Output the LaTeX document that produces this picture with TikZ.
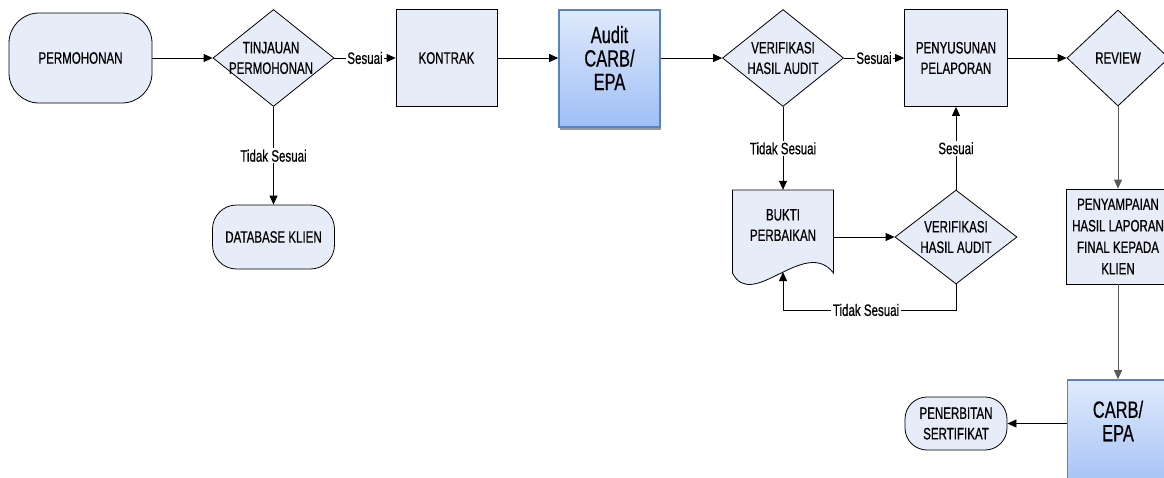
\documentclass[tikz,border=0pt]{standalone}
\usepackage{fontspec}
\setmainfont{Liberation Sans}[FakeStretch=0.7,FakeBold=0.6]
\usetikzlibrary{shapes.geometric,arrows.meta,shadows}
\definecolor{boxfill}{RGB}{231,237,248}
\definecolor{gtop}{RGB}{224,234,252}
\definecolor{gbot}{RGB}{158,190,245}
\definecolor{gborder}{RGB}{88,130,200}
\begin{document}
\begin{tikzpicture}[x=1pt,y=-1pt, font=\fontsize{16.5}{20.5}\selectfont,
 box/.style={draw=black, fill=boxfill, line width=0.8pt, inner sep=0pt},
 proc/.style={box, rectangle, minimum width=101pt, minimum height=97pt, align=center},
 term/.style={box, rectangle, rounded corners=#1, align=center},
 dec/.style={box, diamond, minimum width=121pt, minimum height=97pt},
 dtext/.style={align=center, inner sep=0pt},
 big/.style={rectangle, draw=gborder, line width=1.6pt, top color=gtop, bottom color=gbot, minimum width=101pt, minimum height=117pt, drop shadow={shadow xshift=1pt, shadow yshift=-3pt, fill=gray!80, opacity=1}},
 bigtext/.style={align=center, font=\fontsize{23.5}{23.5}\selectfont},
 arr/.style={-{Triangle[length=9pt,width=8pt]}, line width=0.8pt},
 lbl/.style={fill=white, inner sep=1.5pt}]
\useasboundingbox (0,0) rectangle (1164,477);
\clip (0,0) rectangle (1164,477);

% top row
\node[term=30pt, minimum width=143pt, minimum height=90pt] (perm) at (80.5,58) {PERMOHONAN};
\node[dec] (tinj) at (273.5,58) {};
\node[dtext] (tinjt) at (271,58) {TINJAUAN\\PERMOHONAN};
\node[proc] (kontrak) at (446.5,58) {KONTRAK};
\node[big] (audit) at (609.5,68.5) {};
\node[bigtext] (auditt) at (609.5,58) {Audit\\CARB/\\EPA};
\node[dec] (ver1) at (783,58) {};
\node[dtext] (ver1t) at (783,58) {VERIFIKASI\\HASIL AUDIT};
\node[proc, minimum width=103pt] (penyus) at (956,58) {PENYUSUNAN\\PELAPORAN};
\node[dec, minimum width=102pt, minimum height=96pt] (review) at (1118,58) {};
\node[dtext] (reviewt) at (1118,58) {REVIEW};

% lower part
\node[term=24pt, minimum width=122pt, minimum height=64pt] (db) at (273.5,237) {DATABASE KLIEN};
\node[inner sep=0pt, minimum width=101pt, minimum height=83pt] (bukti) at (783,231.5) {};
\draw[box] (732.5,190) -- (833.5,190) -- (833.5,273) .. controls (805,236) and (752,312) .. (732.5,273) -- cycle;
\node[dtext] (buktit) at (783,225) {BUKTI\\PERBAIKAN};
\coordinate (buktibot) at (783,272);
\node[dec, minimum width=122pt, minimum height=94pt] (ver2) at (956,237) {};
\node[dtext] (ver2t) at (956,237) {VERIFIKASI\\HASIL AUDIT};
\coordinate (loopc) at (783,310);
\node[proc, minimum width=103pt, minimum height=95pt, font=\fontsize{16.5}{21.5}\selectfont] (penyam) at (1118,236.5) {PENYAMPAIAN\\HASIL LAPORAN\\FINAL KEPADA\\KLIEN};
\node[big] (carb) at (1118,438.5) {};
\node[bigtext] (carbt) at (1118,421) {CARB/\\EPA};
\node[term=22pt, minimum width=102pt, minimum height=53pt] (pen) at (956,423.5) {PENERBITAN\\SERTIFIKAT};

% connectors
\draw[arr] (perm) -- (tinj);
\draw[arr] (tinj) -- node[lbl]{Sesuai} (kontrak);
\draw[arr] (kontrak) -- (audit.west |- kontrak);
\draw[arr] (audit.east |- ver1) -- (ver1);
\draw[arr] (ver1) -- node[lbl]{Sesuai} (penyus);
\draw[arr] (penyus) -- (review);
\draw[arr] (tinj) -- node[lbl]{Tidak Sesuai} (db);
\draw[arr] (ver1) -- node[lbl]{Tidak Sesuai} (bukti);
\draw[arr] (bukti.east |- ver2) -- (ver2);
\draw[arr] (ver2.south) |- node[lbl,pos=0.76]{Tidak Sesuai} (loopc) -- (buktibot);
\draw[arr] (ver2) -- node[lbl]{Sesuai} (penyus);
\draw[arr, draw=gray!70!black] (review) -- (penyam);
\draw[arr, draw=gray!70!black] (penyam) -- (carb);
\draw[arr] (carb.west |- pen) -- (pen);
\end{tikzpicture}
\end{document}
